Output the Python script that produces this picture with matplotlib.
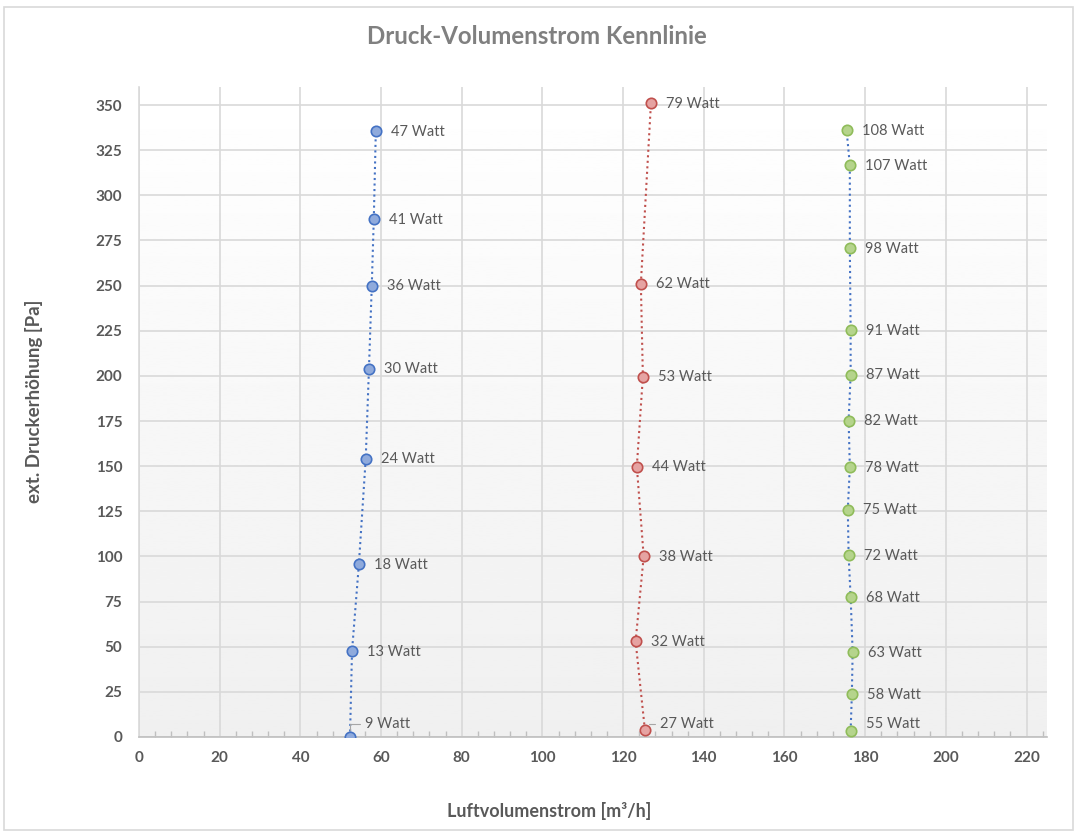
import numpy as np
from matplotlib import pyplot as plt

blue_flow = [52.3, 52.8, 54.5, 56.2, 57.0, 57.7, 58.2, 58.7]
blue_press = [0, 47.5, 95.6, 154.2, 204, 250, 287, 335.5]
blue_watt = [9, 13, 18, 24, 30, 36, 41, 47]

red_flow = [125.4, 123.1, 125.1, 123.4, 124.9, 124.4, 126.9]
red_press = [3.9, 53, 100, 149.8, 199.6, 251, 351]
red_watt = [27, 32, 38, 44, 53, 62, 79]

green_flow = [176.4, 176.7, 176.9, 176.4, 175.9, 175.7, 176.2, 175.9, 176.4, 176.4, 176.2, 176.2, 175.4]
green_press = [3.3, 23.8, 47, 77.4, 100.6, 126, 149.3, 175.2, 200.7, 225.5, 270.9, 316.7, 336]
green_watt = [55, 58, 63, 68, 72, 75, 78, 82, 87, 91, 98, 107, 108]

x_ticks = np.arange(0, 221, 20)
y_ticks = np.arange(0, 351, 25)

text_grey = '#595959'
grid_grey = '#d9d9d9'

plt.rcParams['font.family'] = ['Lato', 'DejaVu Sans']

fig = plt.figure(figsize=(10.74, 8.32), dpi=100)
ax = fig.add_axes([139 / 1074, 1 - 737 / 832, (1046.7 - 139) / 1074, (737 - 87) / 832])

# Hintergrund-Verlauf (oben weiss, unten hellgrau)
grad = np.linspace(1.0, 0.94, 256).reshape(-1, 1)
ax.imshow(grad, extent=[0, 1, 0, 1], transform=ax.transAxes, cmap='gray',
          vmin=0, vmax=1, aspect='auto', zorder=0)

series = [
    (blue_flow, blue_press, blue_watt, '#4472c4', '#8faadc', '#4472c4'),
    (red_flow, red_press, red_watt, '#c0504d', '#e6a3a2', '#c0504d'),
    (green_flow, green_press, green_watt, '#4472c4', '#b5d48c', '#8fbc5a'),
]

pt_per_pa = 650 / 360 * 0.72  # Punkte je Pa bei dpi 100

for flow, press, watt, line_col, face, edge in series:
    ax.plot(flow, press, linestyle=':', color=line_col, lw=1.5, zorder=3)
    ax.plot(flow, press, linestyle='none', marker='o', markersize=7.5,
            markerfacecolor=face, markeredgecolor=edge, markeredgewidth=1.2, zorder=4)
    for fx, py, w in zip(flow, press, watt):
        if py < 7:
            # Beschriftung am unteren Rand etwas nach oben, mit Fuehrungslinie
            dy = (7 - py) * pt_per_pa
            arrow = None
            if fx < 150:
                arrow = dict(arrowstyle='-', color='#a6a6a6', lw=0.8,
                             relpos=(0, 0.5), shrinkA=2, shrinkB=5,
                             connectionstyle='angle,angleA=0,angleB=90,rad=0')
            ax.annotate(f'{w} Watt', xy=(fx, py), xytext=(11, dy), textcoords='offset points',
                        ha='left', va='center', fontsize=10.5, color=text_grey, zorder=5,
                        arrowprops=arrow)
        else:
            ax.annotate(f'{w} Watt', xy=(fx, py), xytext=(11, -0.5), textcoords='offset points',
                        ha='left', va='center', fontsize=10.5, color=text_grey, zorder=5)

ax.set_xlim(0, 225)
ax.set_ylim(0, 360)
ax.set_xticks(x_ticks)
ax.set_yticks(y_ticks)
ax.set_xticks(np.arange(0, 225, 4), minor=True)
ax.grid(True, which='major', color=grid_grey, lw=1.2, zorder=1)
ax.set_axisbelow(True)

for side in ['top', 'right']:
    ax.spines[side].set_visible(False)
ax.spines['left'].set_color(grid_grey)
ax.spines['left'].set_linewidth(1.2)
ax.spines['bottom'].set_color('#bfbfbf')
ax.spines['bottom'].set_linewidth(1.2)

ax.tick_params(axis='y', length=0, pad=12, labelsize=11, labelcolor=text_grey)
ax.tick_params(axis='x', which='major', length=0, pad=10, labelsize=11, labelcolor=text_grey)
ax.tick_params(axis='x', which='minor', direction='in', length=4, color='#bfbfbf', width=1)
for lab in ax.get_xticklabels() + ax.get_yticklabels():
    lab.set_fontweight('bold')

ax.set_xlabel('Luftvolumenstrom [m³/h]', fontsize=13, fontweight='bold', color=text_grey)
ax.set_ylabel('ext. Druckerhöhung [Pa]', fontsize=13.5, fontweight='bold', color=text_grey)
ax.xaxis.set_label_coords(0.452, -0.1)
ax.yaxis.set_label_coords(-0.106, 0.517)

fig.text(0.5, 1 - 37 / 832, 'Druck-Volumenstrom Kennlinie', ha='center', va='center',
         fontsize=17.3, fontweight='bold', color='#808080')

# Rahmen um das ganze Diagramm
fig.patches.append(plt.Rectangle((0.004, 0.002), 0.995, 0.99, transform=fig.transFigure,
                                 fill=False, edgecolor='#d9d9d9', lw=1.2))

fig.savefig('out.png', dpi=100)
